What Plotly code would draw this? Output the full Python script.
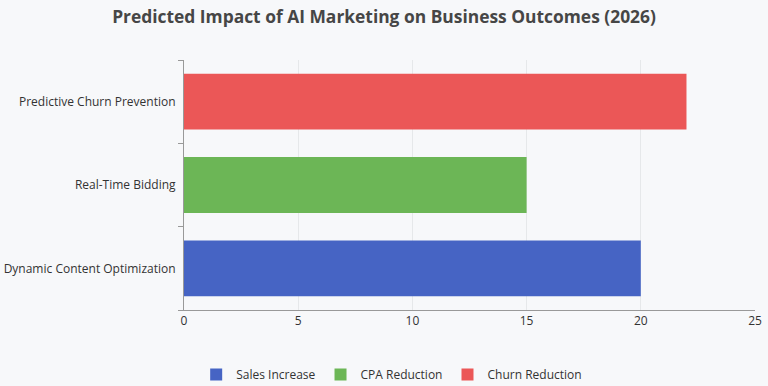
import plotly.graph_objects as go

categories = ["Dynamic Content Optimization", "Real-Time Bidding", "Predictive Churn Prevention"]
series_names = ["Sales Increase", "CPA Reduction", "Churn Reduction"]
series_values = [20, 15, 22]
colors = ["#4664c4", "#6cb656", "#eb5757"]
x_ticks = [0, 5, 10, 15, 20, 25]

fig = go.Figure()
for cat, name, val, col in zip(categories, series_names, series_values, colors):
    fig.add_trace(go.Bar(
        y=[cat], x=[val], name=name, orientation="h",
        marker=dict(color=col, line=dict(width=0)),
        hovertemplate="%{y}: %{x}<extra>" + name + "</extra>",
    ))

fig.update_layout(
    width=768, height=386,
    paper_bgcolor="#f7f8fa", plot_bgcolor="#f7f8fa",
    barmode="overlay", bargap=0.33,
    font=dict(family="Open Sans, Noto Sans, sans-serif", size=12, color="#444"),
    title=dict(text="<b>Predicted Impact of AI Marketing on Business Outcomes (2026)</b>",
               x=0.5, xref="container", xanchor="center", y=0.955, yanchor="middle",
               font=dict(size=17.4, color="#464646")),
    margin=dict(l=184, r=13, t=60, b=76),
    legend=dict(orientation="h", x=0.51, xref="container", xanchor="center",
                y=0.03, yref="container", yanchor="middle",
                font=dict(size=12, color="#333"), traceorder="normal"),
    showlegend=True,
)
fig.update_xaxes(range=[0, 25], tickvals=x_ticks, showgrid=True, gridcolor="#e6e8ea",
                 showline=True, linecolor="#999", linewidth=1, zeroline=False,
                 ticks="", tickfont=dict(size=12, color="#333"), automargin=False)
fig.update_yaxes(categoryorder="array", categoryarray=categories,
                 showline=True, linecolor="#999", linewidth=1, showgrid=False,
                 ticks="outside", tickson="boundaries", ticklen=5, tickcolor="#999",
                 ticklabelstandoff=5,
                 tickfont=dict(size=12, color="#333"), automargin=False)

fig.write_html("out.html", config={"displayModeBar": False},
               post_script="document.body.style.margin='0';")
